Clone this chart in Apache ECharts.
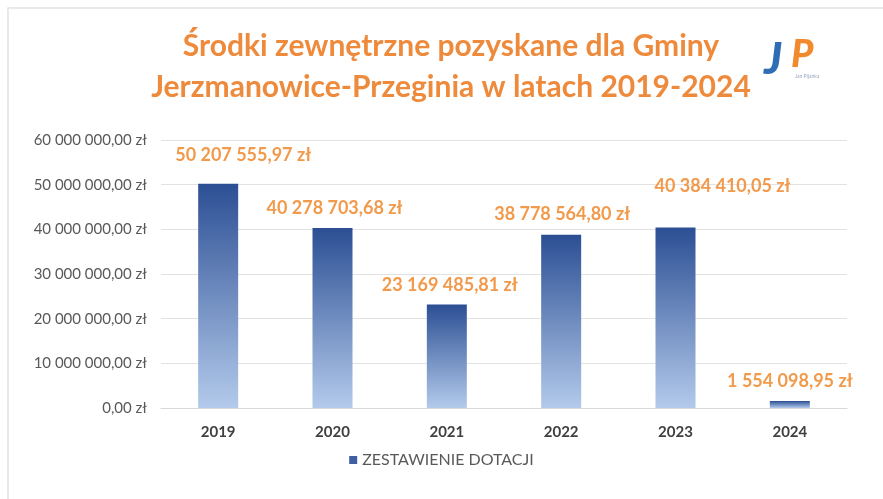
<!DOCTYPE html>
<html>
<head>
<meta charset="utf-8">
<script src="https://cdn.jsdelivr.net/npm/echarts@6/dist/echarts.min.js"></script>
<style>
  html, body { margin: 0; padding: 0; background: #ffffff; }
  #chart { width: 883px; height: 499px; }
</style>
</head>
<body>
<div id="chart"></div>
<script>
'use strict';
// dane
var years = ['2019', '2020', '2021', '2022', '2023', '2024'];
var dotacje = [50207555.97, 40278703.68, 23169485.81, 38778564.80, 40384410.05, 1554098.95];
var yTicks = [0, 10000000, 20000000, 30000000, 40000000, 50000000, 60000000];
var seriesName = 'ZESTAWIENIE DOTACJI';

// przesunięcia etykiet (jak w oryginale z Excela)
var labelShift = [[25, -15], [2, -6], [3, -5], [1, -7], [47, -27], [0, -6]];

function zl(v) {
    var parts = v.toFixed(2).split('.');
    var intPart = parts[0].replace(/\B(?=(\d{3})+(?!\d))/g, ' ');
    return intPart + ',' + parts[1] + ' zł';
}

function init() {
    const el = document.getElementById('chart');
    const chart = echarts.init(el);
    const barData = dotacje.map(function (v, i) {
        return {
            value: v,
            label: { offset: labelShift[i] }
        };
    });
    const option = {
        animation: false,
        backgroundColor: '#ffffff',
        textStyle: { fontFamily: 'Lato' },
        title: {
            text: 'Środki zewnętrzne pozyskane dla Gminy\nJerzmanowice-Przeginia w latach 2019-2024',
            left: 446,
            top: 21,
            textAlign: 'center',
            textStyle: {
                color: '#EE8A3C',
                fontSize: 30,
                fontWeight: 'bold',
                lineHeight: 41,
                fontFamily: 'Lato'
            }
        },
        graphic: [
            {
                type: 'rect',
                shape: { x: 8, y: 8, width: 900, height: 520 },
                style: { fill: 'none', stroke: '#e3e3e3', lineWidth: 1.5 },
                silent: true
            },
            {
                type: 'text', left: 764, top: 38,
                style: { text: 'J', fill: '#2F6DB5', font: 'italic 900 44px Lato' }
            },
            {
                type: 'text', left: 791, top: 36,
                style: { text: 'P', fill: '#F08A2C', font: 'italic 900 38px Lato' }
            },
            {
                type: 'text', left: 795, top: 74,
                style: { text: 'Jan Pijanka', fill: '#9aa7bd', font: '5px Lato' }
            }
        ],
        legend: {
            data: [seriesName],
            bottom: 26,
            left: 'center',
            itemWidth: 8,
            itemHeight: 8,
            icon: 'rect',
            itemGap: 6,
            itemStyle: { color: '#3F5FA3' },
            textStyle: { color: '#595959', fontSize: 16 }
        },
        grid: {
            left: 161,
            right: 36,
            top: 140,
            bottom: 91
        },
        xAxis: {
            type: 'category',
            data: years,
            axisLine: { show: true, lineStyle: { color: '#d9d9d9' } },
            axisTick: { show: false },
            axisLabel: {
                color: '#404040',
                fontSize: 15,
                fontWeight: 'bold',
                margin: 17
            }
        },
        yAxis: {
            type: 'value',
            min: yTicks[0],
            max: yTicks[yTicks.length - 1],
            interval: yTicks[1] - yTicks[0],
            axisLine: { show: false },
            axisTick: { show: false },
            splitLine: { lineStyle: { color: '#e2e2e2', width: 1 } },
            axisLabel: {
                color: '#595959',
                fontSize: 15,
                margin: 14,
                formatter: function (v) { return zl(v); }
            }
        },
        series: [
            {
                name: seriesName,
                type: 'bar',
                data: barData,
                barWidth: 40,
                itemStyle: {
                    color: new echarts.graphic.LinearGradient(0, 0, 0, 1, [
                        { offset: 0, color: '#2C4F94' },
                        { offset: 1, color: '#B3CAEB' }
                    ], false)
                },
                label: {
                    show: true,
                    position: 'top',
                    distance: 5,
                    color: '#F29A4B',
                    fontSize: 18,
                    fontWeight: 'bold',
                    formatter: function (p) { return zl(p.value); }
                }
            }
        ]
    };
    chart.setOption(option);
}

(function () {
    init();
})();
</script>
</body>
</html>
